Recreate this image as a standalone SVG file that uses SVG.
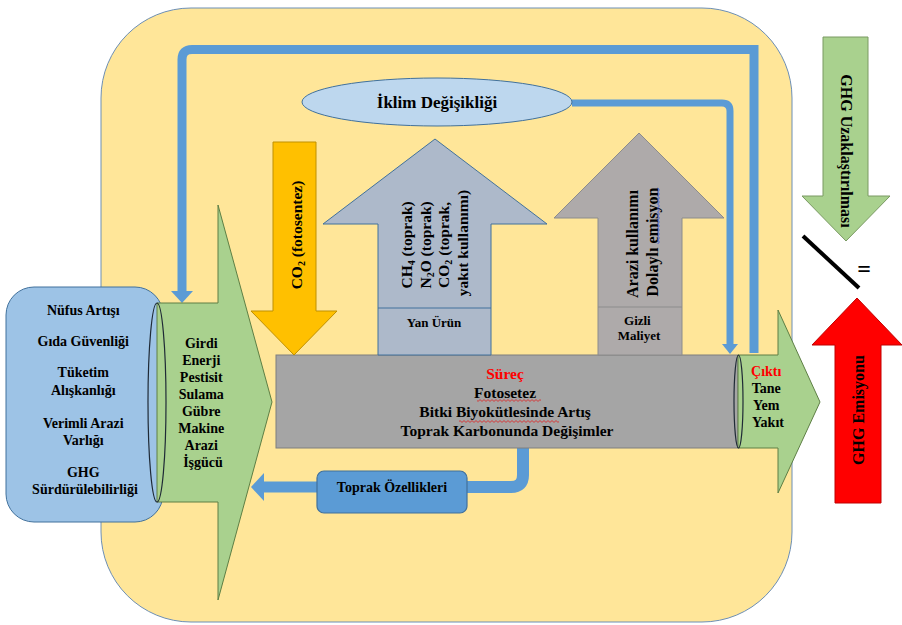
<svg xmlns="http://www.w3.org/2000/svg" width="902" height="625" viewBox="0 0 902 625">
  <style>
    .t { font-family: "Liberation Serif", "Times New Roman", serif; font-weight: bold; fill: #000; text-anchor: middle; }
    .red { fill: #FF0000; }
    .flow { fill: none; stroke: #5B9BD5; stroke-linecap: butt; }
    .head { fill: #5B9BD5; }
  </style>
  <defs>
    <!-- spell-check squiggles -->
    <pattern id="sqRed" patternUnits="userSpaceOnUse" width="4" height="3">
      <path d="M0,0.6 L2,2.4 L4,0.6" fill="none" stroke="#E02020" stroke-width="0.8"/>
    </pattern>
    <pattern id="sqBlue" patternUnits="userSpaceOnUse" width="3" height="4">
      <path d="M0.6,0 L2.4,2 L0.6,4" fill="none" stroke="#3050E0" stroke-width="0.8"/>
    </pattern>
  </defs>

  <!-- background frame -->
  <rect id="frame" x="101" y="8" width="691" height="614" rx="90" ry="90" fill="#FFE699" stroke="#6D8FB5" stroke-width="1"/>

  <!-- feedback connectors -->
  <g id="connectors">
    <path class="flow" stroke-width="9" d="M754,353 V49.5 H192 Q182,49.5 182,59.5 V292"/>
    <polygon class="head" points="171,291 193,291 182,303"/>
    <path class="flow" stroke-width="7" d="M572,103 H722 Q730,103 730,111 V345"/>
    <polygon class="head" points="722,344 738,344 730,354"/>
    <path class="flow" stroke-width="12" d="M523,447 V475 Q523,487 511,487 H467"/>
    <path class="flow" stroke-width="11" d="M317,487 H263"/>
    <polygon class="head" points="264,473 251,487 264,501"/>
  </g>

  <!-- inputs: drivers -->
  <g id="drivers">
    <rect x="6" y="287" width="157" height="235" rx="28" ry="28" fill="#9DC3E6" stroke="#41719C" stroke-width="1"/>
    <text class="t" font-size="14">
      <tspan x="85" y="315">Nüfus Artışı</tspan>
      <tspan x="85" y="346">Gıda Güvenliği</tspan>
      <tspan x="85" y="377">Tüketim</tspan>
      <tspan x="85" y="395">Alışkanlığı</tspan>
      <tspan x="85" y="428">Verimli Arazi</tspan>
      <tspan x="85" y="445">Varlığı</tspan>
      <tspan x="85" y="477">GHG</tspan>
      <tspan x="85" y="494">Sürdürülebilirliği</tspan>
    </text>
  </g>

  <!-- inputs arrow -->
  <g id="inputs">
    <path d="M157,303 H218 V205 L272,402 L218,600 V502 H157 Z" fill="#A9D18E" stroke="#5E7F45" stroke-width="1"/>
    <ellipse cx="157" cy="402.5" rx="9" ry="99.5" fill="none" stroke="#1F2A36" stroke-width="1.2"/>
    <text class="t" font-size="14">
      <tspan x="203" y="348">Girdi</tspan>
      <tspan x="203" y="365">Enerji</tspan>
      <tspan x="203" y="382">Pestisit</tspan>
      <tspan x="203" y="399">Sulama</tspan>
      <tspan x="203" y="416">Gübre</tspan>
      <tspan x="203" y="433">Makine</tspan>
      <tspan x="203" y="450">Arazi</tspan>
      <tspan x="203" y="467">İşgücü</tspan>
    </text>
  </g>

  <!-- climate change -->
  <g id="climate">
    <ellipse cx="437" cy="102" rx="135" ry="24" fill="#BDD7EE" stroke="#41719C" stroke-width="1"/>
    <text class="t" font-size="17" x="437" y="108">İklim Değişikliği</text>
  </g>

  <!-- process cylinder -->
  <g id="process">
    <rect x="276" y="355" width="462" height="93" fill="#A5A5A5" stroke="#7F7F7F" stroke-width="1"/>
    <text class="t" font-size="15.5">
      <tspan class="red" x="507" y="379">Süreç</tspan>
      <tspan x="507" y="398">Fotosetez</tspan>
      <tspan x="507" y="417">Bitki Biyokütlesinde Artış</tspan>
      <tspan x="507" y="436">Toprak Karbonunda Değişimler</tspan>
    </text>
    <rect x="477" y="399" width="64" height="3" fill="url(#sqRed)"/>
    <rect x="459" y="420" width="100" height="3" fill="url(#sqRed)"/>
  </g>

  <!-- CO2 uptake -->
  <g id="co2-uptake">
    <path d="M273,142 H316 V311 H337 L294,355 L251,311 H273 Z" fill="#FFC000" stroke="#BF9000" stroke-width="1"/>
    <text class="t" font-size="15.5" transform="translate(301.5,235) rotate(-90)" x="0" y="0">CO<tspan font-size="10" dy="3">2</tspan><tspan dy="-3"> (fotosentez)</tspan></text>
  </g>

  <!-- by-product emissions -->
  <g id="by-product">
    <path d="M435,139 L547,224 H491 V355 H378 V224 H323 Z" fill="#ADB9CA" stroke="#41719C" stroke-width="1"/>
    <line x1="378" y1="308" x2="491" y2="308" stroke="#41719C" stroke-width="1"/>
    <text class="t" font-size="15.5" transform="translate(412,243) rotate(-90)">
      <tspan x="0" y="0">CH<tspan font-size="10" dy="3">4</tspan><tspan dy="-3"> (toprak)</tspan></tspan>
      <tspan x="0" y="18.5">N<tspan font-size="10" dy="3">2</tspan><tspan dy="-3">O (toprak)</tspan></tspan>
      <tspan x="0" y="37">CO<tspan font-size="10" dy="3">2</tspan><tspan dy="-3"> (toprak,</tspan></tspan>
      <tspan x="0" y="55.5">yakıt kullanımı)</tspan>
    </text>
    <text class="t" font-size="13" x="434" y="327">Yan Ürün</text>
  </g>

  <!-- hidden cost -->
  <g id="hidden-cost">
    <path d="M639,133 L724,218 H682 V355 H598 V218 H554 Z" fill="#AEAAAA" stroke="#8C8C8C" stroke-width="1"/>
    <line x1="598" y1="307" x2="682" y2="307" stroke="#8C8C8C" stroke-width="1"/>
    <text class="t" font-size="16" transform="translate(637.5,242) rotate(-90)">
      <tspan x="0" y="0">Arazi kullanımı</tspan>
      <tspan x="0" y="20">Dolaylı emisyon</tspan>
    </text>
    <rect x="657" y="188" width="3" height="56" fill="url(#sqBlue)"/>
    <text class="t" font-size="13">
      <tspan x="639" y="325">Gizli</tspan>
      <tspan x="639" y="340">Maliyet</tspan>
    </text>
  </g>

  <!-- output arrow -->
  <g id="output">
    <path d="M738,355 H778 V310 L820,402 L778,493 V448 H738 Z" fill="#A9D18E" stroke="#5E7F45" stroke-width="1"/>
    <ellipse cx="738.5" cy="401.5" rx="4.5" ry="46.5" fill="none" stroke="#1F2A36" stroke-width="1.2"/>
    <text class="t" font-size="14">
      <tspan class="red" x="768" y="376">Çıktı</tspan>
      <tspan x="768" y="393">Tane</tspan>
      <tspan x="768" y="410">Yem</tspan>
      <tspan x="768" y="427">Yakıt</tspan>
    </text>
  </g>

  <!-- soil properties -->
  <g id="soil">
    <rect x="317" y="471" width="150" height="42" rx="7" ry="7" fill="#5B9BD5" stroke="#41719C" stroke-width="1.2"/>
    <text class="t" font-size="14" x="392" y="492">Toprak Özellikleri</text>
  </g>

  <!-- GHG removal -->
  <g id="ghg-removal">
    <path d="M823,37 H868 V196 H890 L846,241 L802,196 H823 Z" fill="#A9D18E" stroke="#7A9A63" stroke-width="1"/>
    <text class="t" font-size="16" transform="translate(840.5,151) rotate(90)" x="0" y="0">GHG Uzaklaştırılması</text>
  </g>

  <!-- ratio sign -->
  <g id="ratio">
    <line x1="803" y1="236" x2="859" y2="288" stroke="#000" stroke-width="4"/>
    <text class="t" font-size="24" x="864" y="277">=</text>
  </g>

  <!-- GHG emission -->
  <g id="ghg-emission">
    <path d="M835,503 V345 H812 L857,298 L902,345 H881 V503 Z" fill="#FF0000" stroke="#C00000" stroke-width="1"/>
    <text class="t" font-size="16" transform="translate(863.5,410) rotate(-90)" x="0" y="0">GHG Emisyonu</text>
  </g>
</svg>
